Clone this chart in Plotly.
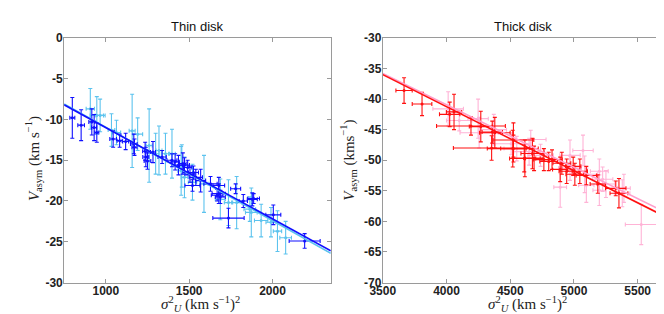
import plotly.graph_objects as go

# ---------------- data ----------------
# Thin disk, dark blue sample
thin_a_x = [799, 852, 916, 930, 946, 1044, 1083, 1119, 1168, 1172, 1236, 1240, 1250, 1283, 1338,
            1397, 1436, 1472, 1505, 1416, 1462, 1491, 1526, 1540, 1569, 1628, 1678, 1678, 1687,
            1779, 1736, 1825, 1879, 1887, 2005, 2193, 1520, 1668]
thin_a_y = [-9.8, -10.7, -10.3, -11.0, -11.6, -12.4, -12.6, -12.7, -13.0, -13.4, -13.9, -14.6, -15.1,
            -14.0, -14.6, -15.0, -15.6, -15.6, -16.7, -15.2, -15.4, -15.9, -16.5, -17.1, -17.5, -17.9,
            -18.1, -19.1, -19.5, -18.5, -22.1, -20.0, -19.8, -19.7, -21.7, -24.9, -18.1, -19.3]
thin_a_xe = [15, 20, 18, 15, 12, 20, 15, 18, 20, 15, 15, 18, 20, 15, 25, 30, 25, 30, 30, 25, 20, 25,
             30, 40, 30, 40, 35, 40, 30, 30, 94, 25, 30, 35, 45, 93, 45, 35]
thin_a_ye = [2.5, 1.9, 1.6, 1.6, 1.2, 1.0, 0.8, 1.0, 1.2, 1.0, 1.1, 1.2, 1.0, 1.3, 0.8, 0.8, 1.2, 0.9,
             1.0, 1.0, 1.3, 0.9, 0.8, 1.0, 1.4, 0.9, 1.0, 1.2, 0.8, 0.6, 1.2, 0.8, 0.8, 0.6, 1.2, 0.9,
             0.7, 0.7]

# Thin disk, light blue sample
thin_b_x = [907, 946, 966, 1034, 1064, 1158, 1191, 1260, 1299, 1319, 1358, 1397, 1456, 1452, 1472,
            1520, 1589, 1687, 1736, 1785, 1873, 1932, 1991, 2030, 2079, 1864]
thin_b_y = [-8.7, -9.5, -9.5, -11.3, -11.6, -11.4, -11.8, -13.2, -14.2, -13.8, -14.2, -14.2, -15.7,
            -16.3, -17.1, -17.7, -17.9, -19.8, -20.2, -20.2, -21.4, -22.4, -22.6, -23.7, -24.5, -21.0]
thin_b_xe = [25, 40, 30, 20, 25, 18, 30, 18, 20, 18, 25, 20, 20, 20, 20, 25, 25, 30, 25, 30, 35, 40,
             30, 25, 35, 35]
thin_b_ye = [2.5, 2.3, 2.0, 2.0, 1.5, 4.5, 2.0, 4.5, 2.5, 3.0, 2.5, 3.0, 2.6, 3.0, 2.5, 2.2, 3.5, 2.5,
             2.8, 3.2, 3.0, 2.0, 1.8, 2.5, 2.0, 1.5]

# Thick disk, red sample
thick_a_x = [3667, 3808, 4025, 4059, 4192, 4269, 4359, 4354, 4525, 4525, 4615, 4379, 4520, 4674, 4687,
             4764, 4802, 4828, 4892, 4905, 4994, 5007, 5046, 5097, 5187, 5328, 5353, 4610, 4943]
thick_a_y = [-38.6, -40.8, -42.5, -42.1, -44.4, -44.5, -45.4, -48.0, -46.7, -48.1, -49.7, -45.5, -48.1,
             -48.9, -49.7, -49.9, -50.2, -49.9, -51.5, -50.5, -51.0, -52.3, -51.8, -52.5, -53.9, -54.6,
             -55.4, -49.7, -51.8]
thick_a_xe = [64, 77, 80, 60, 270, 90, 80, 300, 160, 100, 120, 120, 200, 90, 70, 80, 70, 80, 60, 70,
              60, 70, 60, 80, 60, 80, 70, 90, 60]
thick_a_ye = [2.1, 1.9, 2.0, 2.9, 1.5, 2.5, 1.8, 2.0, 2.8, 2.2, 3.0, 2.5, 3.0, 2.5, 2.0, 1.8, 1.5, 1.6,
              2.0, 1.8, 1.5, 1.8, 2.0, 1.5, 1.5, 1.2, 2.4, 2.2, 2.0]

# Thick disk, pink sample
thick_b_x = [4013, 4248, 4371, 4256, 4551, 4648, 4738, 4969, 5071, 5084, 4892, 5097, 5199, 5225, 5251,
             5379, 5392, 5528, 5199, 4969, 4507, 4661, 4100]
thick_b_y = [-41.6, -43.2, -45.0, -45.5, -48.1, -48.6, -49.2, -51.3, -48.4, -52.3, -54.4, -54.1, -54.9,
             -53.1, -53.9, -55.4, -54.6, -60.5, -51.8, -49.2, -47.3, -46.6, -43.5]
thick_b_xe = [120, 80, 100, 150, 100, 120, 100, 90, 80, 100, 50, 60, 50, 80, 70, 60, 50, 125, 70, 80,
              150, 120, 100]
thick_b_ye = [2.8, 3.2, 2.5, 2.5, 2.0, 2.2, 1.8, 2.0, 2.5, 3.0, 3.3, 2.8, 2.5, 2.0, 2.2, 2.2, 2.3, 3.3,
              2.0, 2.5, 1.8, 1.5, 1.7]

# linear fits (slope, intercept)
thin_a_fit = (-0.01119, 0.19)
thin_b_fit = (-0.01144, 0.48)
thick_a_fit = (-0.01048, 0.68)
thick_b_fit = (-0.01023, 0.0)

thin_range = [750, 2350]
thick_range = [3500, 5700]
thin_xticks = [1000, 1500, 2000]
thin_yticks = [0, -5, -10, -15, -20, -25, -30]
thick_xticks = [3500, 4000, 4500, 5000, 5500]
thick_yticks = [-30, -35, -40, -45, -50, -55, -60, -65, -70]

# ---------------- figure ----------------
DARK_BLUE = "#1010ff"
LIGHT_BLUE = "#5cc3ee"
RED = "#ff1010"
PINK = "#ffb3d6"

fig = go.Figure()


def add_err(x, y, xe, ye, color, xa, ya):
    fig.add_trace(go.Scatter(
        x=x, y=y, mode="markers", xaxis=xa, yaxis=ya,
        marker=dict(color=color, size=3),
        error_x=dict(type="data", array=xe, color=color, thickness=1.1, width=2),
        error_y=dict(type="data", array=ye, color=color, thickness=1.1, width=2),
        showlegend=False, hoverinfo="skip"))


def add_fit(rng, fit, color, xa, ya):
    m, b = fit
    fig.add_trace(go.Scatter(
        x=rng, y=[m * v + b for v in rng], mode="lines", xaxis=xa, yaxis=ya,
        line=dict(color=color, width=1.6), showlegend=False, hoverinfo="skip"))


add_err(thin_b_x, thin_b_y, thin_b_xe, thin_b_ye, LIGHT_BLUE, "x", "y")
add_err(thin_a_x, thin_a_y, thin_a_xe, thin_a_ye, DARK_BLUE, "x", "y")
add_fit(thin_range, thin_b_fit, LIGHT_BLUE, "x", "y")
add_fit(thin_range, thin_a_fit, DARK_BLUE, "x", "y")

add_err(thick_b_x, thick_b_y, thick_b_xe, thick_b_ye, PINK, "x2", "y2")
add_err(thick_a_x, thick_a_y, thick_a_xe, thick_a_ye, RED, "x2", "y2")
add_fit(thick_range, thick_b_fit, "#ff9fcc", "x2", "y2")
add_fit(thick_range, thick_a_fit, RED, "x2", "y2")

W, H = 664, 314
tickfont = dict(family="Liberation Sans", size=12, color="#222", weight="bold")
axcommon = dict(showline=True, linecolor="#9a9a9a", linewidth=1, mirror="ticks", ticks="inside",
                ticklen=4, tickcolor="#9a9a9a", showgrid=False, zeroline=False, tickfont=tickfont)


def labels(vals):
    return [str(v) for v in vals]


yb, yt = (H - 280) / H, (H - 24) / H
fig.update_layout(
    width=W, height=H, margin=dict(l=0, r=0, t=0, b=0),
    paper_bgcolor="white", plot_bgcolor="white",
    xaxis=dict(domain=[44 / W, 316 / W], range=thin_range, tickvals=thin_xticks,
               ticktext=labels(thin_xticks), anchor="y", ticklabelstandoff=-3, **axcommon),
    yaxis=dict(domain=[yb, yt], range=[-30, 0], tickvals=thin_yticks,
               ticktext=labels(thin_yticks), anchor="x", ticklabelstandoff=-2, **axcommon),
    xaxis2=dict(domain=[369 / W, 655 / W], range=thick_range, tickvals=thick_xticks,
                ticktext=labels(thick_xticks), anchor="y2", ticklabelstandoff=-3, **axcommon),
    yaxis2=dict(domain=[yb, yt], range=[-70, -30], tickvals=thick_yticks,
                ticktext=labels(thick_yticks), anchor="x2", ticklabelstandoff=-2, **axcommon),
)

titlefont = dict(family="Liberation Sans", size=13, color="#111")
labfont = dict(family="Liberation Serif", size=15, color="#222")
ann = [
    dict(text="Thin disk", x=180 / W, y=(H - 12) / H, font=titlefont),
    dict(text="Thick disk", x=512 / W, y=(H - 12) / H, font=titlefont),
    dict(text="<i>σ</i><sup>2</sup><sub><i>U</i></sub> (km s<sup>−1</sup>)<sup>2</sup>",
         x=183 / W, y=(H - 303) / H, font=labfont),
    dict(text="<i>σ</i><sup>2</sup><sub><i>U</i></sub> (km s<sup>−1</sup>)<sup>2</sup>",
         x=517 / W, y=(H - 303) / H, font=labfont),
    dict(text="<i>V</i><sub>asym</sub> (km s<sup>−1</sup>)", x=13 / W, y=(H - 150) / H,
         font=labfont, textangle=-90),
    dict(text="<i>V</i><sub>asym</sub> (kms<sup>−1</sup>)", x=334 / W, y=(H - 152) / H,
         font=labfont, textangle=-90),
]
for a in ann:
    a.update(xref="paper", yref="paper", showarrow=False, xanchor="center", yanchor="middle")
fig.update_layout(annotations=ann)

fig.write_html("out.html")
